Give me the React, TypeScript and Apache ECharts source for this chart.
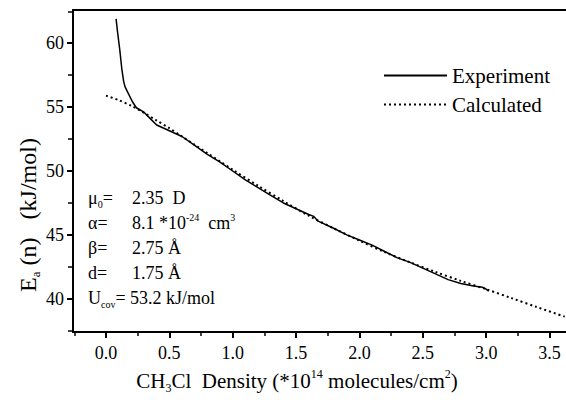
import React, { useEffect, useRef } from "react";
import * as echarts from "echarts";

const seriesNames = ["Experiment", "Calculated"];

const expX = [0.08, 0.09, 0.1, 0.11, 0.125, 0.14, 0.15, 0.18, 0.21, 0.24, 0.3, 0.35, 0.4, 0.5, 0.6, 0.7, 0.8, 0.9, 1.0, 1.1, 1.2, 1.3, 1.4, 1.5, 1.6, 1.64, 1.67, 1.8, 1.9, 2.0, 2.1, 2.2, 2.3, 2.4, 2.5, 2.6, 2.7, 2.8, 2.9, 2.97, 3.0, 3.02];
const expY = [61.9, 61.0, 60.2, 59.4, 58.0, 57.0, 56.6, 56.0, 55.4, 54.95, 54.6, 54.1, 53.6, 53.15, 52.7, 52.0, 51.3, 50.7, 50.0, 49.3, 48.7, 48.1, 47.5, 47.05, 46.6, 46.45, 46.1, 45.5, 45.0, 44.6, 44.2, 43.7, 43.2, 42.85, 42.4, 41.95, 41.5, 41.2, 41.0, 40.9, 40.75, 40.6];

const calcX = [0, 0.1, 0.2, 0.3, 0.4, 0.5, 0.6, 0.7, 0.8, 0.9, 1.0, 1.2, 1.4, 1.6, 1.8, 2.0, 2.2, 2.4, 2.6, 2.8, 3.0, 3.2, 3.4, 3.62];
const calcY = [55.9, 55.55, 55.1, 54.55, 53.95, 53.35, 52.7, 52.05, 51.4, 50.75, 50.1, 48.85, 47.65, 46.5, 45.5, 44.55, 43.65, 42.85, 42.1, 41.4, 40.75, 40.05, 39.35, 38.6];

const xTicks = [0, 0.5, 1.0, 1.5, 2.0, 2.5, 3.0, 3.5];
const yTicks = [40, 45, 50, 55, 60];

const paramLabels = ["\u03bc{sub|0}=", "\u03b1=", "\u03b2=", "d=", ""];
const paramValues = ["2.35  D", "8.1 *10{sup|-24}  cm{sup|3}", "2.75 \u00c5", "1.75 \u00c5", ""];
const ucovText = "U{sub|cov}= 53.2 kJ/mol";

const xTitle = "CH{sub|3}Cl  Density (*10{sup|14} molecules/cm{sup|2})";
const yTitle = "E{sub|a} (n)   (kJ/mol)";

export default function App() {
  const ref = useRef<HTMLDivElement>(null);
  useEffect(() => {
    const chart = echarts.init(ref.current!, null, { renderer: "svg" });
    const ff = "'Liberation Serif', 'Times New Roman', Times, serif";
    const black = "#000";
    const richSmall = (fs: number, lh: number) => ({
      sub: { fontSize: fs, fontFamily: ff, fill: black, verticalAlign: "bottom", lineHeight: lh },
      sup: { fontSize: fs, fontFamily: ff, fill: black, verticalAlign: "top", lineHeight: lh },
    });
    const graphics: any[] = [];
    const lineYs = [198, 223, 248, 273, 298];
    paramLabels.forEach((lab, i) => {
      if (i === 4) {
        graphics.push({
          type: "text", x: 88, y: lineYs[i],
          style: { text: ucovText, fontSize: 18, fontFamily: ff, fill: black, verticalAlign: "middle", lineHeight: 23, rich: richSmall(10, 23) },
        });
        return;
      }
      graphics.push({
        type: "text", x: 88, y: lineYs[i],
        style: { text: lab, fontSize: 18, fontFamily: ff, fill: black, verticalAlign: "middle", lineHeight: 22, rich: richSmall(10, 22) },
      });
      graphics.push({
        type: "text", x: 132, y: lineYs[i],
        style: { text: paramValues[i], fontSize: 18, fontFamily: ff, fill: black, verticalAlign: "middle", lineHeight: 22, rich: richSmall(10, 22) },
      });
    });
    graphics.push({
      type: "text", x: 297, y: 381,
      style: { text: xTitle, fontSize: 21, fontFamily: ff, fill: black, align: "center", verticalAlign: "middle", lineHeight: 26, rich: richSmall(12, 26) },
    });
    graphics.push({
      type: "text", x: 28, y: 215, rotation: Math.PI / 2,
      style: { text: yTitle, fontSize: 24, fontFamily: ff, fill: black, align: "center", verticalAlign: "middle", lineHeight: 28, rich: richSmall(13, 28) },
    });

    chart.setOption({
      animation: false,
      backgroundColor: "#fff",
      textStyle: { fontFamily: ff },
      grid: { left: 73, right: 0, top: 10, bottom: 68, containLabel: false },
      legend: {
        show: true, orient: "vertical", left: 378, top: 60,
        itemWidth: 63, itemHeight: 12, itemGap: 8,
        data: seriesNames,
        itemStyle: { opacity: 0 },
        textStyle: { fontFamily: ff, fontSize: 21, color: black, lineHeight: 20 },
      },
      xAxis: [
        {
          type: "value", min: -0.26, max: 3.63, splitNumber: 8, position: "bottom",
          axisLine: { show: true, onZero: false, lineStyle: { color: black, width: 2 } },
          axisTick: { show: true, inside: false, length: 6, customValues: xTicks, lineStyle: { color: black, width: 2 } },
          minorTick: { show: true, splitNumber: 2, length: 4, lineStyle: { color: black, width: 1.5 } },
          axisLabel: { customValues: xTicks, formatter: (v: number) => v.toFixed(1), fontFamily: ff, fontSize: 18, color: black, margin: 12 },
          splitLine: { show: false },
        },
        {
          type: "value", min: -0.26, max: 3.63, position: "top",
          axisLine: { show: true, onZero: false, lineStyle: { color: black, width: 2 } },
          axisTick: { show: false }, axisLabel: { show: false }, splitLine: { show: false },
        },
      ],
      yAxis: {
        type: "value", min: 37.4, max: 62.6, splitNumber: 5,
        axisLine: { show: true, onZero: false, lineStyle: { color: black, width: 2 } },
        axisTick: { show: true, inside: false, length: 6, customValues: yTicks, lineStyle: { color: black, width: 2 } },
        minorTick: { show: true, splitNumber: 2, length: 5, lineStyle: { color: black, width: 1.5 } },
        axisLabel: { customValues: yTicks, fontFamily: ff, fontSize: 18, color: black, margin: 9 },
        splitLine: { show: false },
      },
      series: [
        {
          name: seriesNames[0], type: "line", symbol: "none", showSymbol: false,
          data: expX.map((x, i) => [x, expY[i]]),
          lineStyle: { color: black, width: 1.5 },
          itemStyle: { color: black },
        },
        {
          name: seriesNames[1], type: "line", symbol: "none", showSymbol: false, smooth: 0.3,
          data: calcX.map((x, i) => [x, calcY[i]]),
          lineStyle: { color: black, width: 2, type: [2, 3] },
          itemStyle: { color: black },
        },
      ],
      graphic: graphics,
    });
    return () => chart.dispose();
  }, []);
  return (
    <div
      ref={ref}
      style={{ position: "fixed", left: 0, top: 0, width: 566, height: 400, background: "#fff" }}
    />
  );
}
